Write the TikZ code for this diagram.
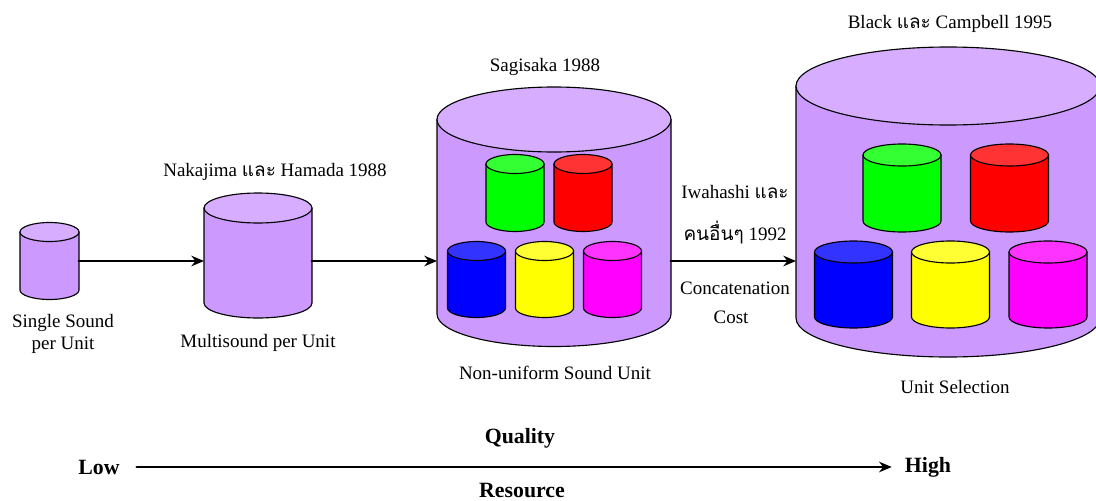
\documentclass[tikz,border=0pt]{standalone}
\usepackage{fontspec}
\setmainfont{Liberation Serif}
\newfontfamily\thai[Script=Thai]{Loma}
\usetikzlibrary{positioning,arrows.meta}
\definecolor{drumpurple}{HTML}{CC99FF}
\definecolor{dgreen}{HTML}{00FF00}
\definecolor{dred}{HTML}{FF0000}
\definecolor{dblue}{HTML}{0000FF}
\definecolor{dyellow}{HTML}{FFFF00}
\definecolor{dmagenta}{HTML}{FF00FF}
% drum: name, cx, top y, bottom y, x radius, y radius, colour (pixel units)
\newcommand{\drum}[7]{%
  \filldraw[fill=#7] (#2-#5,#3) -- (#2-#5,#4) arc[start angle=180,end angle=0,x radius=#5,y radius=#6] -- (#2+#5,#3) -- cycle;
  \filldraw[fill=#7!80!white] (#2,#3) ellipse[x radius=#5,y radius=#6];
  \node[inner sep=0pt,outer sep=0pt,minimum width={2*#5*0.025cm},minimum height={(#4-#3+2*#6)*0.025cm}] (#1) at (#2,{(#3+#4)/2}) {};}
\tikzset{lbl/.style={font=\fontsize{13.5}{16}\selectfont},
  bigl/.style={font=\fontsize{15.5}{18}\selectfont\bfseries},
  arr/.style={-{Stealth[length=9pt,width=7.5pt]},line width=2.1pt}}
\begin{document}
\begin{tikzpicture}[line join=round,line cap=round,x=0.025cm,y=-0.025cm,line width=0.8pt]
\useasboundingbox (0,0) rectangle (1096,500);
\clip (0,0) rectangle (1096,500);
% cylinders
\drum{single}{49.5}{232}{290}{29.5}{9.5}{drumpurple}
\drum{multi}{258}{208}{303}{54}{15}{drumpurple}
\drum{nonuni}{554}{119.5}{314}{117}{32.5}{drumpurple}
\foreach \cx/\ct/\cb/\col in {515/164/222/dgreen,583/164/222/dred,476.5/251/308/dblue,544.5/251/308/dyellow,612.5/251/308/dmagenta}
  {\drum{s\col}{\cx}{\ct}{\cb}{29}{9.5}{\col}}
\drum{unitsel}{948}{86}{318}{152}{39}{drumpurple}
\foreach \cx/\ct/\cb/\col in {902/155/221/dgreen,1009.5/155/221/dred,853.5/252/317/dblue,950.5/252/317/dyellow,1048/252/317/dmagenta}
  {\drum{b\col}{\cx}{\ct}{\cb}{39}{11}{\col}}
% arrows
\draw[arr] (single.east) -- (single.east -| multi.west);
\draw[arr] (multi.east |- single.east) -- (nonuni.west |- single.east);
\draw[arr] (nonuni.east |- single.east) -- (unitsel.west |- single.east);
% labels
\node[lbl,align=center] (t1) at (63,334) {Single Sound\\per Unit};
\node[lbl] (t2) at (258,343) {Multisound per Unit};
\node[lbl] (a2) at (275,172) {Nakajima {\thai และ} Hamada 1988};
\node[lbl] (a3) at (545,67) {Sagisaka 1988};
\node[lbl] (i1) at (735,192) {Iwahashi {\thai และ}};
\node[lbl] (i2) at (735,232) {{\thai คนอื่นๆ} 1992};
\node[lbl] (c1) at (735,288) {Concatenation};
\node[lbl] (c2) at (731,317) {Cost};
\node[lbl] (t3) at (555,373) {Non-uniform Sound Unit};
\node[lbl] (a4) at (950,24) {Black {\thai และ} Campbell 1995};
\node[lbl] (t4) at (955,387) {Unit Selection};
% scale
\node[bigl] (low) at (99,467) {Low};
\node[bigl] (high) at (928,467) {High};
\node[bigl] (qual) at (520,438) {Quality};
\node[bigl] (res) at (522,490) {Resource};
\draw[arr] ([xshift=0.3cm]low.east) -- ([xshift=-0.2cm]high.west);
\end{tikzpicture}
\end{document}
